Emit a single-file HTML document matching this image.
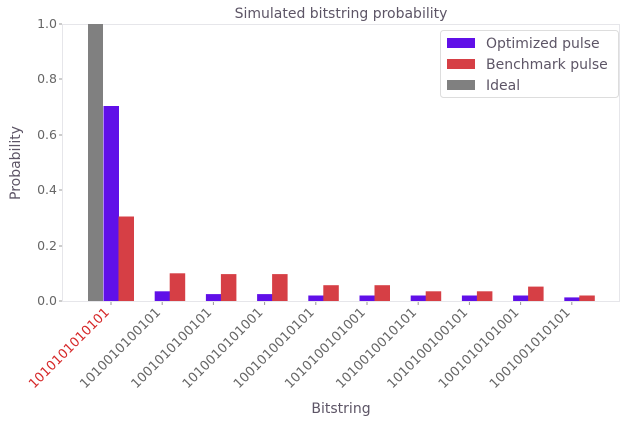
<!DOCTYPE html>
<html><head><style>body{margin:0;background:#fff}</style></head><body>
<svg width="627" height="423" xmlns="http://www.w3.org/2000/svg" font-family="DejaVu Sans, Liberation Sans, sans-serif">
<rect width="627" height="423" fill="#fff"/>
<text x="341" y="18" text-anchor="middle" font-size="14" fill="#5d5566">Simulated bitstring probability</text>
<rect x="62.5" y="24.5" width="557" height="277" fill="none" stroke="#e6e6ea"/>
<g font-size="12.5" fill="#666" text-anchor="end">
<text x="57" y="305">0.0</text><text x="57" y="250">0.2</text><text x="57" y="194">0.4</text><text x="57" y="139">0.6</text><text x="57" y="83">0.8</text><text x="57" y="28">1.0</text>
</g>
<g stroke="#999"><line x1="59" x2="62" y1="301" y2="301"/><line x1="59" x2="62" y1="246" y2="246"/><line x1="59" x2="62" y1="190" y2="190"/><line x1="59" x2="62" y1="135" y2="135"/><line x1="59" x2="62" y1="79" y2="79"/><line x1="59" x2="62" y1="24" y2="24"/></g>
<text transform="translate(20,163) rotate(-90)" text-anchor="middle" font-size="14" fill="#5d5566">Probability</text>
<text x="341" y="413" text-anchor="middle" font-size="14" fill="#5d5566">Bitstring</text>
<rect x="88" y="24" width="15" height="277" fill="#808080"/>
<g fill="#6010e8">
<rect x="103.5" y="106" width="15.5" height="195"/>
<rect x="154.7" y="291.3" width="15.5" height="9.7"/>
<rect x="205.9" y="294.1" width="15.5" height="6.9"/>
<rect x="257.1" y="294.1" width="15.5" height="6.9"/>
<rect x="308.3" y="295.5" width="15.5" height="5.5"/>
<rect x="359.5" y="295.5" width="15.5" height="5.5"/>
<rect x="410.7" y="295.5" width="15.5" height="5.5"/>
<rect x="461.9" y="295.5" width="15.5" height="5.5"/>
<rect x="513.1" y="295.5" width="15.5" height="5.5"/>
<rect x="564.3" y="297.4" width="15.5" height="3.6"/>
</g>
<g fill="#d63f45">
<rect x="118.5" y="216.5" width="15.5" height="84.5"/>
<rect x="169.7" y="273.3" width="15.5" height="27.7"/>
<rect x="220.9" y="274.1" width="15.5" height="26.9"/>
<rect x="272.1" y="274.1" width="15.5" height="26.9"/>
<rect x="323.3" y="285.2" width="15.5" height="15.8"/>
<rect x="374.5" y="285.2" width="15.5" height="15.8"/>
<rect x="425.7" y="291.3" width="15.5" height="9.7"/>
<rect x="476.9" y="291.3" width="15.5" height="9.7"/>
<rect x="528.1" y="286.6" width="15.5" height="14.4"/>
<rect x="579.3" y="295.5" width="15.5" height="5.5"/>
</g>
<g stroke="#999">
<line x1="111" x2="111" y1="302" y2="305"/><line x1="162.2" x2="162.2" y1="302" y2="305"/><line x1="213.4" x2="213.4" y1="302" y2="305"/><line x1="264.6" x2="264.6" y1="302" y2="305"/><line x1="315.8" x2="315.8" y1="302" y2="305"/><line x1="367" x2="367" y1="302" y2="305"/><line x1="418.2" x2="418.2" y1="302" y2="305"/><line x1="469.4" x2="469.4" y1="302" y2="305"/><line x1="520.6" x2="520.6" y1="302" y2="305"/><line x1="571.8" x2="571.8" y1="302" y2="305"/>
</g>
<g font-size="13" fill="#666" text-anchor="end">
<text transform="translate(110,313) rotate(-45)" fill="#d62728">1010101010101</text>
<text transform="translate(161.2,313) rotate(-45)">1010010100101</text>
<text transform="translate(212.4,313) rotate(-45)">1001010100101</text>
<text transform="translate(263.6,313) rotate(-45)">1010010101001</text>
<text transform="translate(314.8,313) rotate(-45)">1001010010101</text>
<text transform="translate(366,313) rotate(-45)">1010100101001</text>
<text transform="translate(417.2,313) rotate(-45)">1010010010101</text>
<text transform="translate(468.4,313) rotate(-45)">1010100100101</text>
<text transform="translate(519.6,313) rotate(-45)">1001010101001</text>
<text transform="translate(570.8,313) rotate(-45)">1001001010101</text>
</g>
<rect x="440.5" y="30.5" width="178" height="67" rx="3" fill="#fff" stroke="#ddd"/>
<rect x="447" y="38" width="28" height="10" fill="#6010e8"/><text x="486" y="48" font-size="14" fill="#5d5566">Optimized pulse</text>
<rect x="447" y="59" width="28" height="10" fill="#d63f45"/><text x="486" y="69" font-size="14" fill="#5d5566">Benchmark pulse</text>
<rect x="447" y="80" width="28" height="10" fill="#808080"/><text x="486" y="90" font-size="14" fill="#5d5566">Ideal</text>
</svg>
</body></html>
